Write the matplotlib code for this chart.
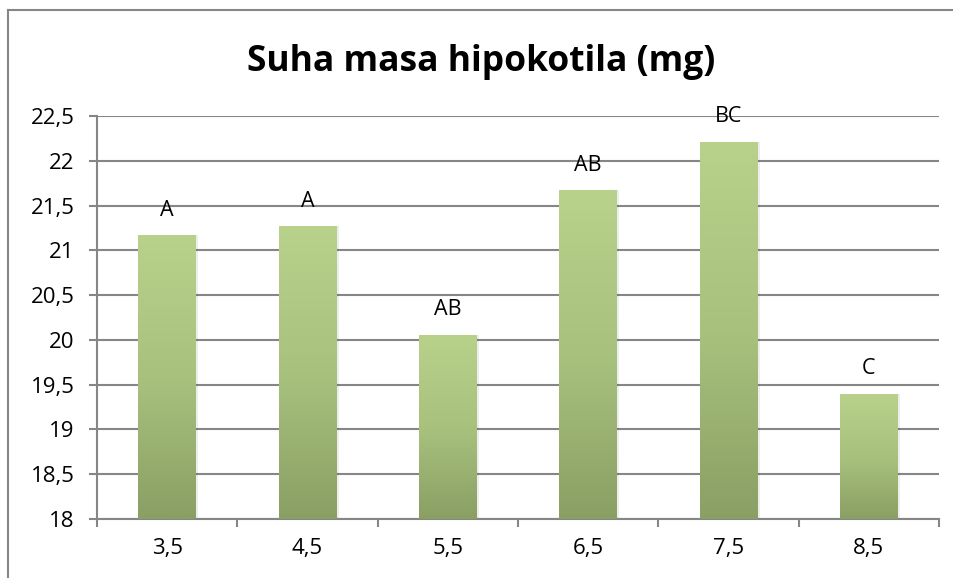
import matplotlib
matplotlib.use("Agg")
import matplotlib.pyplot as plt
import numpy as np
from matplotlib.colors import LinearSegmentedColormap
from matplotlib.lines import Line2D

categories = ["3,5", "4,5", "5,5", "6,5", "7,5", "8,5"]
values = [21.17, 21.27, 20.06, 21.67, 22.21, 19.40]
letters = ["A", "A", "AB", "AB", "BC", "C"]
yticks = [18, 18.5, 19, 19.5, 20, 20.5, 21, 21.5, 22, 22.5]
ytick_labels = ["18", "18,5", "19", "19,5", "20", "20,5", "21", "21,5", "22", "22,5"]
title = "Suha masa hipokotila (mg)"

plt.rcParams['font.family'] = ['Open Sans', 'DejaVu Sans']

W, H = 954, 578
fig = plt.figure(figsize=(W / 100, H / 100), dpi=100)
fig.patch.set_facecolor("white")

# outer chart frame
fig.add_artist(Line2D([8 / W, 8 / W], [0, 1 - 9.5 / H], transform=fig.transFigure,
                      color="#868686", lw=1.5))
fig.add_artist(Line2D([8 / W, 1], [1 - 9.5 / H, 1 - 9.5 / H], transform=fig.transFigure,
                      color="#868686", lw=1.5))

ax = fig.add_axes([97 / W, (H - 519) / H, (939 - 97) / W, (519 - 116) / H])
ymin, ymax = 18, 22.5
x = np.arange(len(categories))
bw = 0.41

cmap = LinearSegmentedColormap.from_list("g", ["#8a9f64", "#a8c27e", "#b8d28c"])
grad = np.linspace(0, 1, 256).reshape(-1, 1)

bars = ax.bar(x, [v - ymin for v in values], bottom=ymin, width=bw,
              color="none", edgecolor="none", zorder=3)
for b, v in zip(bars, values):
    x0 = b.get_x()
    # soft shadow
    ax.bar(x0 + bw / 2 + 0.012, v - ymin, bottom=ymin, width=bw + 0.01,
           color="#000000", alpha=0.07, edgecolor="none", zorder=2.5)
    im = ax.imshow(grad, cmap=cmap, aspect="auto", origin="lower",
                   extent=[x0, x0 + bw, ymin, v], zorder=3)
    im.set_clip_path(b)

for xi, v, lab in zip(x, values, letters):
    ax.annotate(lab, (xi, v), xytext=(0, 18), textcoords="offset points",
                ha="center", va="center", fontsize=15.5, color="black", zorder=5)

ax.set_xlim(-0.5, len(categories) - 0.5)
ax.set_ylim(ymin, ymax)
ax.set_yticks(yticks)
ax.set_yticklabels(ytick_labels, fontsize=16)
ax.set_xticks(x)
ax.set_xticklabels(categories, fontsize=16)
ax.set_xticks(np.arange(-0.5, len(categories), 1.0), minor=True)
ax.tick_params(axis="x", which="major", length=0, pad=14)
ax.tick_params(axis="x", which="minor", length=6, width=1.5, color="#868686")
ax.tick_params(axis="y", length=6, width=1.5, color="#868686", pad=10)

ax.grid(axis="y", color="#868686", lw=1.5, zorder=1)
ax.set_axisbelow(True)
for s in ["top", "right"]:
    ax.spines[s].set_visible(False)
for s in ["left", "bottom"]:
    ax.spines[s].set_color("#868686")
    ax.spines[s].set_linewidth(1.5)

fig.text(481 / W, 1 - 62 / H, title, ha="center", va="center",
         fontsize=25.5, fontweight="bold")

fig.savefig("out.png", dpi=100)
